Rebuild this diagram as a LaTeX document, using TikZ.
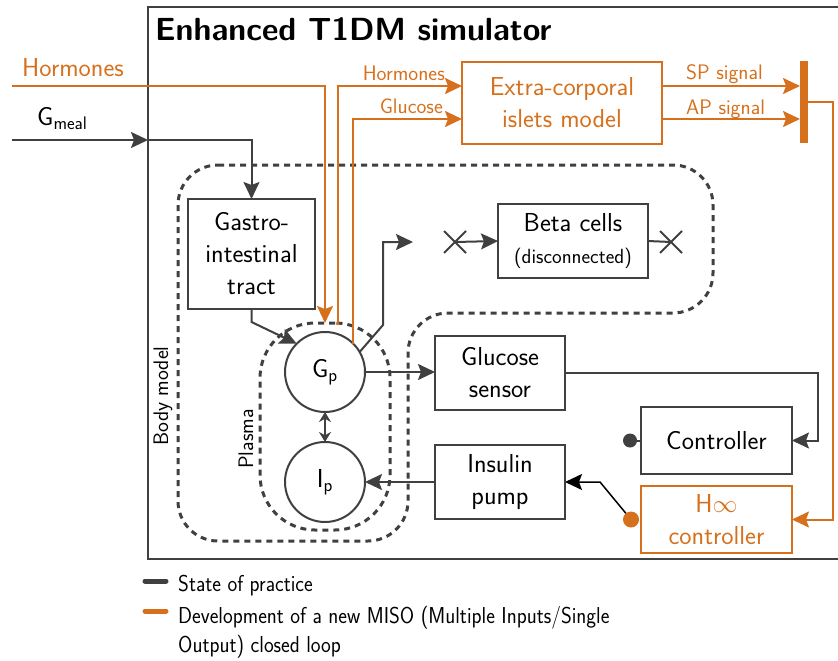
\documentclass[tikz,border=0pt]{standalone}
\usepackage{graphicx}
\usetikzlibrary{arrows.meta,calc,shapes.misc}
\definecolor{orng}{RGB}{214,112,28}
\definecolor{dgray}{RGB}{64,64,64}
\begin{document}
\begin{tikzpicture}[x=1pt,y=-1pt,
  mainfont/.style={font=\sffamily\fontsize{26}{32}\selectfont},
  box/.style={draw=dgray, line width=2pt, inner sep=0pt, outer sep=0pt, align=center, mainfont},
  obox/.style={box, draw=orng, text=orng},
  circ/.style={circle, draw=dgray, line width=2pt, minimum size=80pt, inner sep=0pt, outer sep=0pt, mainfont},
  ln/.style={draw=dgray, line width=2pt},
  oln/.style={draw=orng, line width=2pt},
  arr/.style={-{Stealth[length=17pt,width=16pt,inset=3pt]}},
  dsh/.style={draw=dgray, line width=3pt, dash pattern=on 6pt off 5pt},
  lbl/.style={inner sep=0pt, mainfont},
  slbl/.style={inner sep=0pt, font=\sffamily\fontsize{21}{26}\selectfont},
  leg/.style={inner sep=0pt, anchor=base west, font=\sffamily\fontsize{23}{30}\selectfont},
  xmark/.style={cross out, draw=dgray, line width=2pt, minimum size=20pt, inner sep=0pt},
]
\useasboundingbox (0,0) rectangle (838,661);

% outer simulator frame
\draw[ln] (148,7) rectangle (850,559);
\node[anchor=base west, inner sep=0pt, font=\sffamily\bfseries\fontsize{32}{36}\selectfont] (title) at (155,41) {Enhanced T1DM simulator};

% body model dashed region
\draw[dsh, rounded corners=40pt] (178,165) -- (713,165) -- (713,313) -- (408,313) -- (408,541) -- (178,541) -- cycle;
\node[slbl, rotate=90] (bodylbl) at (163,396) {Body model};

% plasma
\node[dsh, rounded corners=55pt, minimum width=130pt, minimum height=207pt, inner sep=0pt, outer sep=0pt] (plasma) at (325,426.5) {};
\node[slbl, rotate=90] (plasmalbl) at (246,439) {Plasma};

% boxes
\node[box, minimum width=127pt, minimum height=110pt] (gastro) at (251.5,254) {Gastro-\\intestinal\\tract};
\node[obox, minimum width=200pt, minimum height=82pt] (islets) at (562,103) {Extra-corporal\\islets model};
\node[box, minimum width=150pt, minimum height=74pt] (beta) at (573,241) {Beta cells\\{\fontsize{20.5}{26}\selectfont (disconnected)}};
\node[box, minimum width=130pt, minimum height=74pt] (sensor) at (500,373) {Glucose\\sensor};
\node[box, minimum width=130pt, minimum height=74pt] (pump) at (500,482) {Insulin\\pump};
\node[box, minimum width=151pt, minimum height=67pt] (ctrl) at (716.5,440.5) {Controller};
\node[obox, minimum width=151pt, minimum height=67pt] (hinf) at (716.5,519.5) {H$\infty$\\controller};
\node[circ] (gp) at (325,372) {G\textsubscript{p}};
\node[circ] (ip) at (325,482) {I\textsubscript{p}};
\node[fill=orng, minimum width=8pt, minimum height=82pt, inner sep=0pt, outer sep=0pt] (bar) at (804,102) {};

% outside labels
\node[lbl, anchor=base west, text=orng] (hormlbl) at (22,77) {Hormones};
\node[lbl, anchor=base west] (gmeallbl) at (37,125) {G\textsubscript{meal}};
\node[slbl, anchor=base east, text=orng] (hinlbl) at (445,81) {Hormones};
\node[slbl, anchor=base east, text=orng] (glinlbl) at (443,113) {Glucose};
\node[slbl, anchor=base west, text=orng] (splbl) at (686,80) {SP signal};
\node[slbl, anchor=base west, text=orng] (aplbl) at (686,114) {AP signal};

% orange connectors
\coordinate (hormL) at (12,86);
\draw[oln,arr] (hormL) -| (plasma.north);
\coordinate (h2) at (338,325);
\draw[oln,arr] (h2) |- ([yshift=17pt]islets.west);
\draw[oln,arr] (gp.north east) |- ([yshift=-16pt]islets.west);
\coordinate (sp) at ([yshift=17pt]islets.east);
\coordinate (ap) at ([yshift=-16pt]islets.east);
\draw[oln,arr] (sp) -- (sp -| bar.west);
\draw[oln,arr] (ap) -- (ap -| bar.west);
\coordinate (oR) at (833,519.5);
\draw[oln,arr] (bar.east) -| (oR) -- (hinf.east);

% gray connectors
\coordinate (gmL) at (12,140);
\coordinate (gmB) at (148,140);
\draw[ln,arr] (gmL) -- (gmB);
\draw[ln,arr] (gmB) -| (gastro.north);
\draw[ln,arr] (gastro.south) -- ++(0,13) -- (gp.north west);
\coordinate (gpk) at (383,325);
\coordinate (gpt) at (413,242);
\draw[ln,arr] (gp.30) -- (gpk) |- (gpt);
\node[xmark] (xl) at (455,242) {};
\node[xmark] (xr) at (671,242) {};
\draw[ln,arr] (xl.center) -- (beta.west);
\draw[ln] (beta.east) -- (xr.center);
\draw[ln,{Stealth[length=10pt,width=12pt]}-{Stealth[length=10pt,width=12pt]}] (gp) -- (ip);
\draw[ln,arr] (gp.east) -- (gp.east -| sensor.west);
\draw[ln,arr] (pump.west) -- (ip.east);
\coordinate (cR) at (818,440.5);
\draw[ln,arr] (sensor.east) -| (cR) -- (ctrl.east);
\coordinate (cdot) at (630,440.5);
\draw[ln] (ctrl.west) -- (cdot);
\fill[dgray] (cdot) circle (7pt);
\coordinate (hdot) at (631,519.5);
\coordinate (hk) at (600,482);
\draw[black, line width=1.5pt, arr] (hdot) -- (hk) -- (hk -| pump.east);
\fill[orng] (hdot) circle (8pt);

% legend
\coordinate (lg1a) at (145,581); \coordinate (lg1b) at (166,581);
\coordinate (lg2a) at (145,611); \coordinate (lg2b) at (166,611);
\draw[dgray, line width=5pt, line cap=round] (lg1a) -- (lg1b);
\draw[orng, line width=5pt, line cap=round] (lg2a) -- (lg2b);
\node[leg] (leg1) at (178,591) {\scalebox{0.9}[1]{State of practice}};
\node[leg] (leg2) at (178,623) {\scalebox{0.9}[1]{Development of a new MISO (Multiple Inputs/Single}};
\node[leg] (leg3) at (178,652) {\scalebox{0.9}[1]{Output) closed loop}};
\end{tikzpicture}
\end{document}
